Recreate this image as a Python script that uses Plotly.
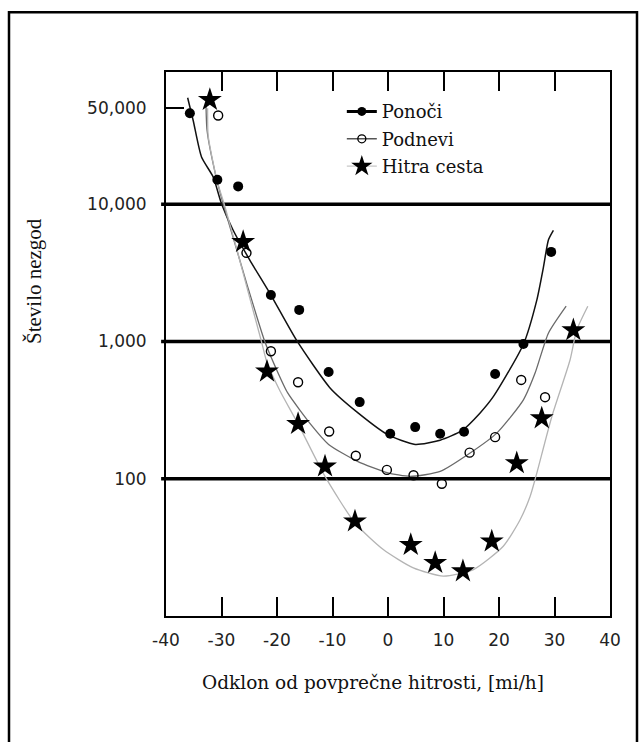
import plotly.graph_objects as go

# ---------------- data ----------------
x_ticks = [-40, -30, -20, -10, 0, 10, 20, 30, 40]
y_tickvals = [100, 1000, 10000, 50000]
y_ticktext = ["100", "1,000", "10,000", "50,000"]
grid_levels = [100, 1000, 10000]

series_names = ["Ponoči", "Podnevi", "Hitra cesta"]

# measured points
ponoci_x = [-35.7, -30.75, -27.0, -21.1, -16.0, -10.7, -5.1, 0.4, 4.9, 9.4, 13.7, 19.3, 24.4, 29.4]
ponoci_y = [46100, 15100, 13500, 2180, 1700, 600, 362, 213, 238, 213, 220, 580, 959, 4500]

podnevi_x = [-30.6, -25.5, -21.1, -16.2, -10.6, -5.8, -0.2, 4.6, 9.7, 14.7, 19.3, 24.0, 28.3]
podnevi_y = [44400, 4430, 850, 505, 221, 147, 116, 106, 92, 155, 201, 525, 393]

hitra_x = [-32.1, -26.1, -21.8, -16.2, -11.35, -5.95, 4.1, 8.5, 13.5, 18.7, 23.2, 27.7, 33.4]
hitra_y = [57700, 5320, 605, 251, 123, 49, 33, 24.4, 21.2, 35, 130, 276, 1210]

# fitted curves
ponoci_curve_x = [-36.1, -35.1, -33.6, -31.5, -30.0, -27.9, -24.9, -21.1, -16.4, -10.4, -5.4,
                  0.0, 4.9, 9.4, 13.3, 16.6, 19.0, 24.4, 26.8, 28.0, 28.9, 29.8]
ponoci_curve_y = [59700, 40800, 22100, 15800, 10100, 6470, 3920, 2180, 1010, 457, 302,
                  209, 178, 191, 224, 302, 398, 955, 1995, 3470, 5500, 6460]

podnevi_curve_x = [-32.8, -32.6, -31.0, -29.7, -27.6, -25.4, -22.2, -20.2, -18.1, -13.7, -10.7,
                   -5.5, -0.2, 4.0, 9.4, 14.8, 19.6, 24.4, 26.5, 28.9, 32.1]
podnevi_curve_y = [55500, 34500, 16000, 10100, 5200, 2600, 1000, 640, 424, 243, 178,
                   134, 111, 104, 113, 154, 215, 376, 589, 1150, 1810]

hitra_curve_x = [-32.5, -32.4, -30.8, -29.5, -27.3, -25.2, -22.8, -21.8, -19.5, -16.2, -11.35,
                 -5.95, -0.85, 4.56, 9.96, 15.4, 20.77, 23.78, 25.6, 26.65, 29.5, 32.8, 34.0, 36.0]
hitra_curve_y = [50100, 31600, 14800, 10000, 4800, 2300, 1000, 700, 440, 251, 104,
                 47.6, 30.5, 22.4, 19.5, 21.8, 32.2, 50.1, 74.3, 104, 282, 733, 1213, 1810]

# ---------------- figure ----------------
fig = go.Figure()

curve_styles = [
    (ponoci_curve_x, ponoci_curve_y, "#111111", 1.5),
    (podnevi_curve_x, podnevi_curve_y, "#6a6a6a", 1.3),
    (hitra_curve_x, hitra_curve_y, "#b4b4b4", 1.3),
]
for cx, cy, col, w in curve_styles:
    fig.add_trace(go.Scatter(x=cx, y=cy, mode="lines",
                             line=dict(color=col, width=w, shape="spline", smoothing=0.6),
                             showlegend=False, hoverinfo="skip"))

fig.add_trace(go.Scatter(x=ponoci_x, y=ponoci_y, mode="markers",
                         marker=dict(symbol="circle", size=10, color="black"),
                         showlegend=False))
fig.add_trace(go.Scatter(x=podnevi_x, y=podnevi_y, mode="markers",
                         marker=dict(symbol="circle-open", size=9, color="black",
                                     line=dict(width=1.4, color="black")),
                         showlegend=False))
fig.add_trace(go.Scatter(x=hitra_x, y=hitra_y, mode="markers",
                         marker=dict(symbol="star", size=18, color="black",
                                     line=dict(width=0)),
                         showlegend=False))

# legend entries
legend_styles = [
    (series_names[0], dict(color="black", width=3), dict(symbol="circle", size=9, color="black")),
    (series_names[1], dict(color="#555555", width=1.4),
     dict(symbol="circle-open", size=8, color="black", line=dict(width=1.3, color="black"))),
    (series_names[2], dict(color="#c8c8c8", width=1.3), dict(symbol="star", size=17, color="black")),
]
for i, (nm, ln, mk) in enumerate(legend_styles):
    fig.add_trace(go.Scatter(x=[None], y=[None], mode="lines+markers", name=nm,
                             line=ln, marker=mk, legendgroup=f"g{i}"))

axis_font = dict(family="DejaVu Sans", size=17, color="#222222")

fig.update_layout(
    width=643, height=742,
    margin=dict(l=166, r=33, t=72, b=126, autoexpand=False),
    paper_bgcolor="white", plot_bgcolor="white",
    xaxis=dict(range=[-40, 40], tickvals=x_ticks, ticktext=[str(v) for v in x_ticks],
               ticks="inside", ticklen=19, tickwidth=1.5, tickcolor="black",
               showline=True, linecolor="black", linewidth=2, mirror="ticks",
               showgrid=False, zeroline=False, tickfont=axis_font, ticklabelstandoff=8),
    yaxis=dict(type="log", range=[1.0, 4.964], tickvals=y_tickvals, ticktext=y_ticktext,
               ticks="inside", ticklen=18, tickwidth=1.5, tickcolor="black",
               showline=True, linecolor="black", linewidth=2, mirror=True,
               showgrid=False, zeroline=False, tickfont=axis_font, ticklabelstandoff=14),
    legend=dict(x=0.396, y=0.961, xanchor="left", yanchor="top",
                bgcolor="rgba(0,0,0,0)", font=dict(family="DejaVu Serif", size=18, color="#111111"),
                tracegroupgap=1),
    showlegend=True,
)

shapes = []
for lv in grid_levels:
    shapes.append(dict(type="line", xref="paper", yref="y", x0=-0.011, x1=1.004,
                       y0=lv, y1=lv, line=dict(color="black", width=3.5), layer="below"))
# outer frame of the picture
shapes.append(dict(type="rect", xref="paper", yref="paper", x0=-0.3536, x1=1.0608,
                   y0=-0.27, y1=1.110, line=dict(color="black", width=2.5)))
fig.update_layout(shapes=shapes)

fig.add_annotation(text="Odklon od povprečne hitrosti, [mi/h]", xref="paper", yref="paper",
                   x=0.466, y=-0.123, showarrow=False, xanchor="center", yanchor="middle",
                   font=dict(family="DejaVu Serif", size=18.5, color="#111111"))
fig.add_annotation(text="Število nezgod", xref="paper", yref="paper",
                   x=-0.297, y=0.616, showarrow=False, textangle=-90,
                   xanchor="center", yanchor="middle",
                   font=dict(family="Liberation Serif", size=21, color="#111111"))

fig.write_html("out.html")
